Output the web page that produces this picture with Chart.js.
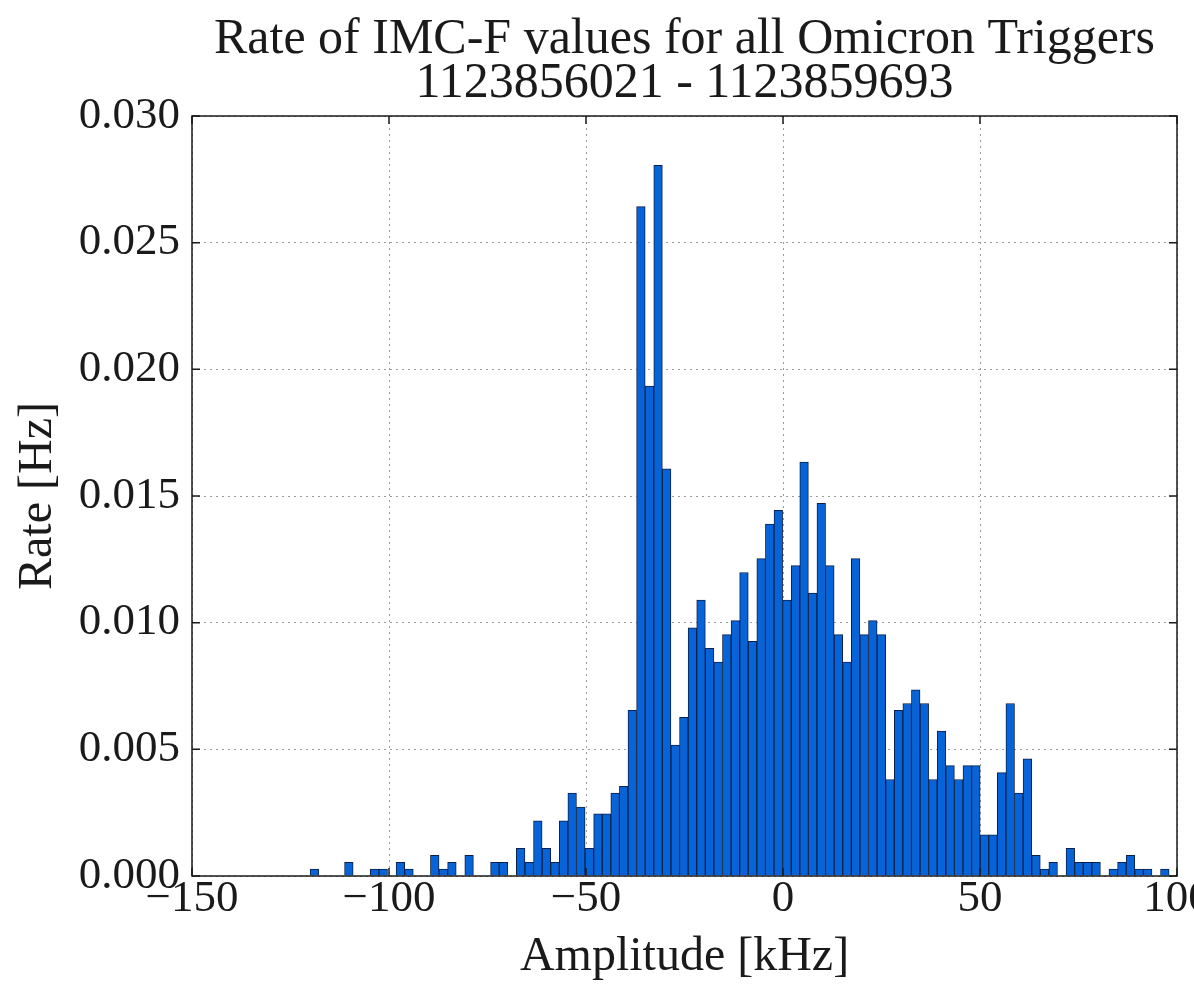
<!DOCTYPE html>
<html lang="en">
<head>
<meta charset="UTF-8">
<title>IMC-F Omicron trigger rate</title>
<script src="https://cdn.jsdelivr.net/npm/chart.js"></script>
<style>
  html, body { margin: 0; padding: 0; background: #fff; overflow: hidden; }
  canvas { display: block; }
</style>
</head>
<body>
<canvas id="rateChart" width="1194" height="996"></canvas>
<script>
// histogram binning (kHz)
const binLow = -120.0;
const binWidth = 2.18;

// trigger rate per bin [Hz]
const rateHz = [
  0.00027, 0, 0, 0, 0.00054, 0, 0, 0.00027, 0.00027, 0,
  0.00054, 0.00027, 0, 0, 0.00082, 0.00027, 0.00054, 0, 0.00082, 0,
  0, 0.00054, 0.00054, 0, 0.00109, 0.00054, 0.00218, 0.00109, 0.00054, 0.00218,
  0.00327, 0.00272, 0.00109, 0.00245, 0.00245, 0.00327, 0.00354, 0.00654, 0.02642, 0.01934,
  0.02805, 0.01607, 0.00517, 0.00626, 0.00980, 0.01089, 0.00899, 0.00844, 0.00953, 0.01008,
  0.01198, 0.00926, 0.01253, 0.01389, 0.01443, 0.01089, 0.01225, 0.01634, 0.01117, 0.01471,
  0.01225, 0.00953, 0.00844, 0.01253, 0.00953, 0.01008, 0.00953, 0.00381, 0.00654, 0.00681,
  0.00735, 0.00681, 0.00381, 0.00572, 0.00436, 0.00381, 0.00436, 0.00436, 0.00163, 0.00163,
  0.00408, 0.00681, 0.00327, 0.00463, 0.00082, 0.00027, 0.00054, 0, 0.00109, 0.00054,
  0.00054, 0.00054, 0, 0.00027, 0.00054, 0.00082, 0.00027, 0.00027, 0, 0.00027
];

const xTicks = [-150, -100, -50, 0, 50, 100];
const yTicks = [0, 0.005, 0.010, 0.015, 0.020, 0.025, 0.030];
const gpsSpan = '1123856021 - 1123859693';

const binCenters = rateHz.map((_, i) => binLow + binWidth * (i + 0.5));

const serif = "'Liberation Serif', 'Times New Roman', serif";
const ink = '#1a1a1a';

// box around the axes plus inward tick marks on every side
const framePlugin = {
  id: 'frame',
  afterDatasetsDraw(chart) {
    const { ctx, chartArea: a, scales: { x, y } } = chart;
    const len = 8;
    ctx.save();
    ctx.strokeStyle = ink;
    ctx.lineWidth = 1.5;
    ctx.beginPath();
    x.ticks.forEach(t => {
      const px = x.getPixelForValue(t.value);
      ctx.moveTo(px, a.bottom); ctx.lineTo(px, a.bottom - len);
      ctx.moveTo(px, a.top); ctx.lineTo(px, a.top + len);
    });
    y.ticks.forEach(t => {
      const py = y.getPixelForValue(t.value);
      ctx.moveTo(a.left, py); ctx.lineTo(a.left + len, py);
      ctx.moveTo(a.right, py); ctx.lineTo(a.right - len, py);
    });
    ctx.stroke();
    ctx.strokeRect(a.left, a.top, a.right - a.left, a.bottom - a.top);
    ctx.restore();
  }
};

new Chart(document.getElementById('rateChart').getContext('2d'), {
  type: 'bar',
  data: {
    datasets: [{
      data: binCenters.map((c, i) => ({ x: c, y: rateHz[i] })),
      backgroundColor: '#0764d8',
      borderColor: '#0b2048',
      borderWidth: 1,
      barPercentage: 1,
      categoryPercentage: 1
    }]
  },
  options: {
    responsive: false,
    animation: false,
    layout: { padding: { left: 0, right: 17, top: 0, bottom: 0 } },
    plugins: {
      legend: { display: false },
      tooltip: { enabled: false },
      title: {
        display: true,
        fullSize: false,
        text: ['Rate of IMC-F values for all Omicron Triggers', gpsSpan],
        font: { family: serif, size: 50, weight: 'normal', lineHeight: 0.88 },
        color: ink,
        padding: { top: 18, bottom: 10 }
      }
    },
    scales: {
      x: {
        type: 'linear',
        min: xTicks[0],
        max: xTicks[xTicks.length - 1],
        offset: false,
        afterBuildTicks: s => { s.ticks = xTicks.map(v => ({ value: v })); },
        grid: { offset: false, color: '#9a9a9a', lineWidth: 1, drawTicks: false },
        border: { display: false, dash: [2, 4] },
        ticks: {
          font: { family: serif, size: 45, lineHeight: 1 },
          color: ink,
          padding: 1,
          maxRotation: 0,
          autoSkip: false,
          callback: v => v < 0 ? '\u2212' + Math.abs(v) : String(v)
        },
        title: {
          display: true,
          text: 'Amplitude [kHz]',
          font: { family: serif, size: 48 },
          color: ink,
          padding: { top: 0, bottom: 10 }
        },
        afterFit: s => { s.height = 120; s.paddingRight = 0; }
      },
      y: {
        min: yTicks[0],
        max: yTicks[yTicks.length - 1],
        afterBuildTicks: s => { s.ticks = yTicks.map(v => ({ value: v })); },
        grid: { color: '#9a9a9a', lineWidth: 1, drawTicks: false },
        border: { display: false, dash: [2, 4] },
        ticks: {
          font: { family: serif, size: 45, lineHeight: 1 },
          color: ink,
          padding: 12,
          callback: v => v.toFixed(3)
        },
        title: {
          display: true,
          text: 'Rate [Hz]',
          font: { family: serif, size: 48 },
          color: ink,
          padding: { top: 10, bottom: 0 }
        },
        afterFit: s => { s.width = 192; }
      }
    }
  },
  plugins: [framePlugin]
});
</script>
</body>
</html>
